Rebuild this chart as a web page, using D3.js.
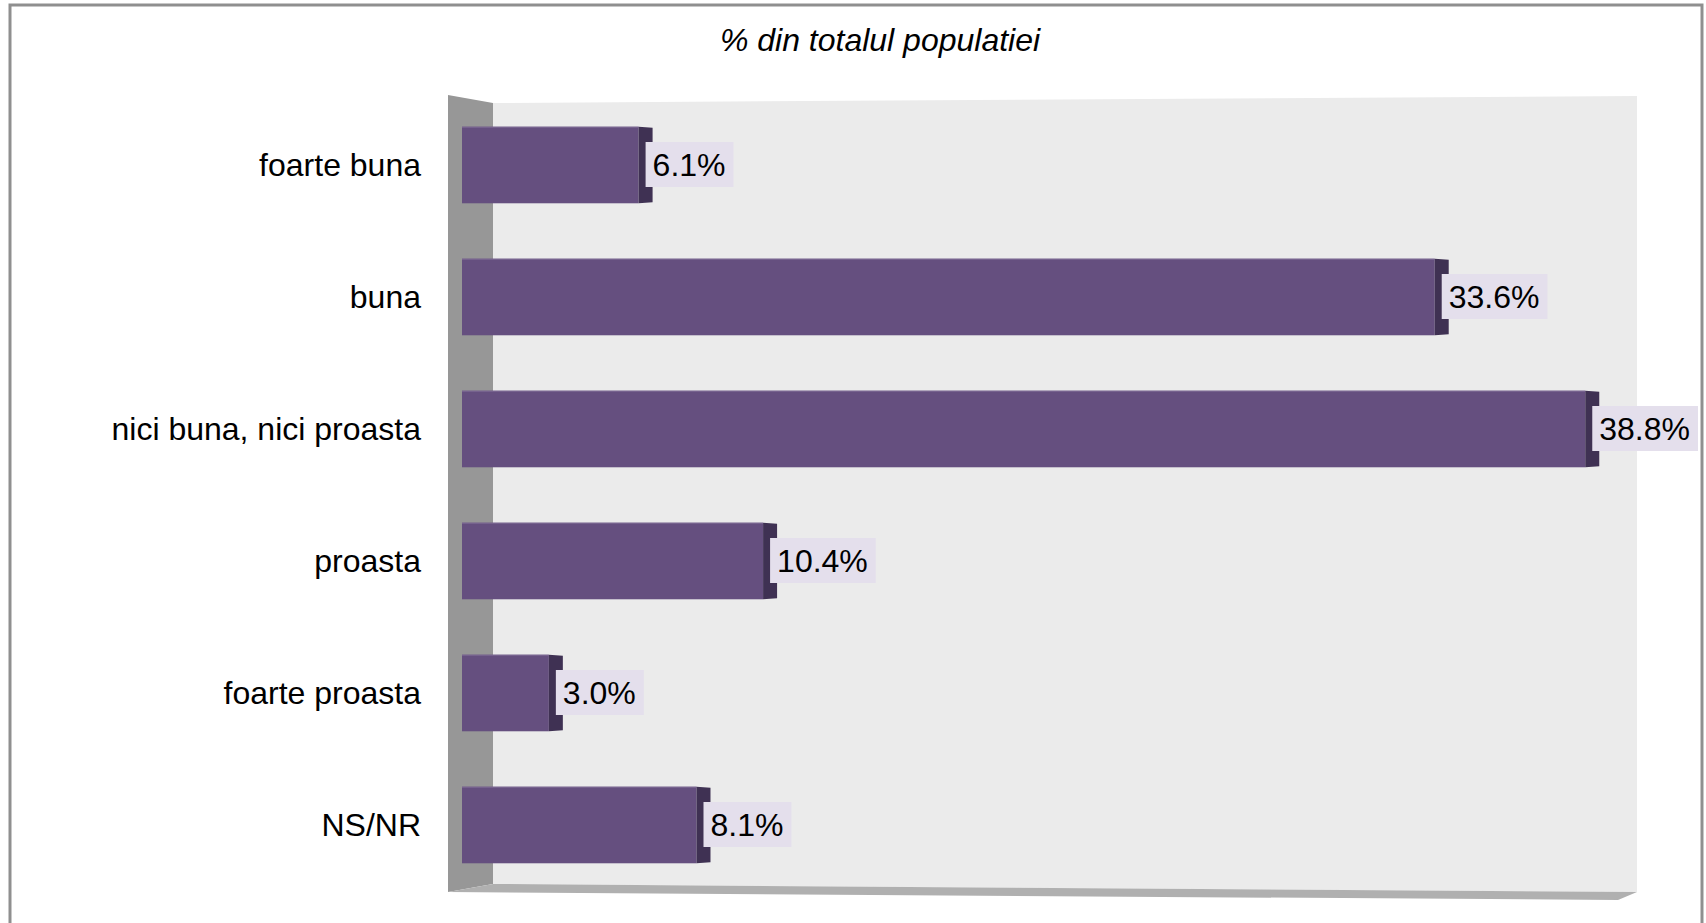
<!DOCTYPE html>
<html>
<head>
<meta charset="utf-8">
<script src="https://cdn.jsdelivr.net/npm/d3@7"></script>
<style>
    body { margin: 0; background: #ffffff; }
    svg text { font-family: "Liberation Sans", Arial, sans-serif; fill: #000000; }
</style>
</head>
<body>
<svg id="chart"></svg>
<script>
// Data
var categories = ["foarte buna", "buna", "nici buna, nici proasta", "proasta", "foarte proasta", "NS/NR"];
var values = [6.1, 33.6, 38.8, 10.4, 3.0, 8.1];
var chartTitle = "% din totalul populatiei";

// Draws the chart
var drawChart = function(target) {
    var screen = {width: 1706, height: 923};

    var svg = d3.select(target)
        .attr("width", screen.width)
        .attr("height", screen.height);

    // outer frame (bottom edge is cut off)
    svg.append("rect")
        .attr("x", 10)
        .attr("y", 5)
        .attr("width", 1692)
        .attr("height", 940)
        .attr("fill", "#ffffff")
        .attr("stroke", "#8f8f8f")
        .attr("stroke-width", 3);

    // scales
    var xScale = d3.scaleLinear()
        .domain([0, 40])
        .range([462, 1620]);

    var yScale = d3.scaleBand()
        .domain(categories)
        .range([99, 891])
        .paddingInner(0.42)
        .paddingOuter(0.21);

    var depth = 14;
    var wallLeft = 448, wallBack = 493, wallRight = 1637;

    // back wall
    svg.append("polygon")
        .attr("points", [[wallBack, 103], [wallRight, 96], [wallRight, 892], [wallBack, 884]].join(" "))
        .attr("fill", "#ebebeb");

    // left side wall
    svg.append("polygon")
        .attr("points", [[wallLeft, 95], [wallBack, 103], [wallBack, 884], [wallLeft, 892]].join(" "))
        .attr("fill", "#979797");

    // floor
    svg.append("polygon")
        .attr("points", [[wallLeft, 892], [wallBack, 884], [wallRight, 892], [wallRight - 19, 900]].join(" "))
        .attr("fill", "#b0b0b0");

    // title
    svg.append("text")
        .attr("x", 880)
        .attr("y", 51)
        .attr("text-anchor", "middle")
        .style("font-size", "32px")
        .style("font-style", "italic")
        .text(chartTitle);

    var data = categories.map(function(c, i) {
        return {category: c, value: values[i]};
    });

    var bars = svg.append("g").classed("bars", true)
        .selectAll("g")
        .data(data)
        .enter()
        .append("g");

    // front face
    bars.append("rect")
        .attr("x", xScale(0))
        .attr("y", function(d) { return yScale(d.category); })
        .attr("width", function(d) { return xScale(d.value) - xScale(0); })
        .attr("height", yScale.bandwidth())
        .attr("fill", "#654f7f");

    // top edge highlight
    bars.append("line")
        .attr("x1", xScale(0))
        .attr("x2", function(d) { return xScale(d.value); })
        .attr("y1", function(d) { return yScale(d.category) + 0.5; })
        .attr("y2", function(d) { return yScale(d.category) + 0.5; })
        .attr("stroke", "#7d6a95")
        .attr("stroke-width", 1);

    // right side face
    bars.append("polygon")
        .attr("points", function(d) {
            var x0 = xScale(d.value), y0 = yScale(d.category), h = yScale.bandwidth();
            return [[x0, y0], [x0 + depth, y0 + 1], [x0 + depth, y0 + h - 1], [x0, y0 + h]].join(" ");
        })
        .attr("fill", "#3f3153");

    // value labels
    var fmt = d3.format(".1f");
    var labels = bars.append("g")
        .attr("transform", function(d) {
            return "translate(" + (xScale(d.value) + 7) + "," +
                (yScale(d.category) + yScale.bandwidth() / 2) + ")";
        });

    labels.append("rect")
        .attr("y", -23)
        .attr("height", 45)
        .attr("fill", "#e4dfec");

    labels.append("text")
        .attr("x", 7)
        .attr("y", 11)
        .style("font-size", "32px")
        .text(function(d) { return fmt(d.value) + "%"; });

    labels.each(function() {
        var g = d3.select(this);
        var w = g.select("text").node().getComputedTextLength();
        g.select("rect").attr("width", w + 15);
    });

    // category labels
    svg.append("g").classed("categories", true)
        .selectAll("text")
        .data(categories)
        .enter()
        .append("text")
        .attr("x", 421)
        .attr("y", function(c) { return yScale(c) + yScale.bandwidth() / 2 + 11; })
        .attr("text-anchor", "end")
        .style("font-size", "32px")
        .text(function(c) { return c; });
}

drawChart("#chart");
</script>
</body>
</html>
